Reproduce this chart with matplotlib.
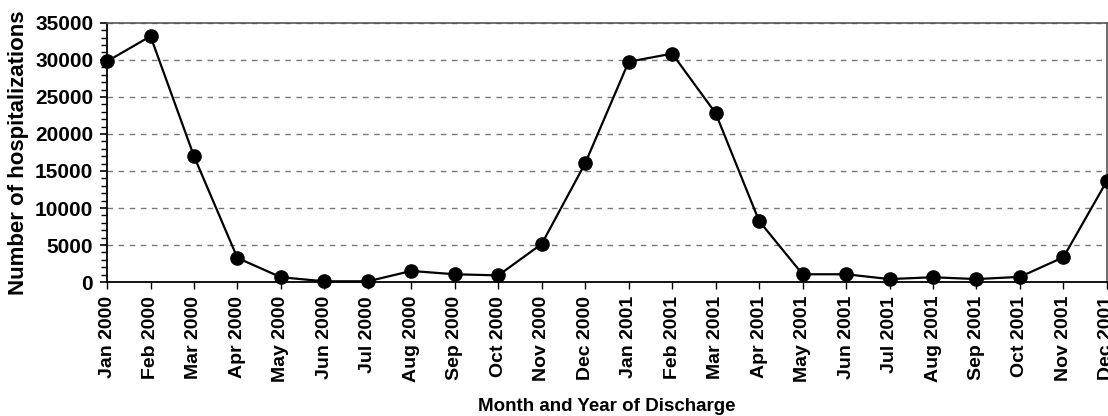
import matplotlib.pyplot as plt
from matplotlib.ticker import MultipleLocator

plt.rcParams['font.family'] = ['Liberation Sans', 'DejaVu Sans']
plt.rcParams['font.weight'] = 'bold'

### Hospitalizations by month of discharge

months = ['Jan', 'Feb', 'Mar', 'Apr', 'May', 'Jun',
          'Jul', 'Aug', 'Sep', 'Oct', 'Nov', 'Dec']
years  = [2000, 2001]
labels = ['%s %d' % (m, y) for y in years for m in months]

hosp_2000 = [29800, 33200, 17000, 3250, 650, 100, 100, 1500, 1050, 900, 5150, 16050]
hosp_2001 = [29750, 30850, 22800, 8250, 1050, 1050, 400, 650, 400, 700, 3350, 13650]
hosp = hosp_2000 + hosp_2001

fig = plt.figure(figsize=(11.08, 4.16), dpi=100)
ax = fig.add_axes([0.0966, 0.322, 0.9024, 0.623])

x = range(len(labels))
ax.plot(x, hosp, color='black', lw=1.6, marker='o', ms=9.5, clip_on=False, zorder=3)

ax.set_xlim(0, len(labels) - 1)
ax.set_ylim(0, 35000)
ax.yaxis.set_major_locator(MultipleLocator(5000))
ax.yaxis.set_minor_locator(MultipleLocator(1000))
ax.set_xticks(list(x))
ax.set_xticklabels(labels, rotation=90, fontsize=14, fontweight='bold')
ax.tick_params(axis='y', labelsize=15, length=5, width=1.2, pad=5)
ax.tick_params(axis='y', which='minor', length=4, width=1)
ax.tick_params(axis='x', length=5, width=1, pad=5)
for lab in ax.get_yticklabels():
    lab.set_fontweight('bold')

ax.grid(True, axis='y', linestyle=(0, (4, 4)), color='#777777', lw=1)
ax.set_axisbelow(True)

for s in ['left', 'bottom']:
    ax.spines[s].set_color('black')
    ax.spines[s].set_linewidth(1.3)
for s in ['top', 'right']:
    ax.spines[s].set_color('#555555')
    ax.spines[s].set_linewidth(1.2)

ax.set_ylabel('Number of hospitalizations', fontsize=16, fontweight='bold', labelpad=4)
ax.set_xlabel('Month and Year of Discharge', fontsize=13.5, fontweight='bold', labelpad=11)

plt.savefig('out.png', dpi=100)
